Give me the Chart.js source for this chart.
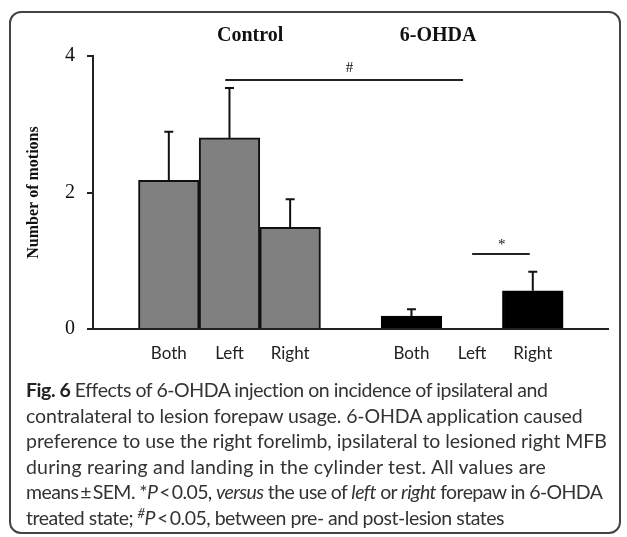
<!DOCTYPE html>
<html>
<head>
<meta charset="utf-8">
<script src="https://cdn.jsdelivr.net/npm/chart.js@4.4.0/dist/chart.umd.min.js"></script>
<style>
    html, body { margin: 0; padding: 0; background: #fff; }
    body { width: 627px; height: 537px; position: relative; overflow: hidden; }
    .frame {
        position: absolute; left: 9px; top: 11px; width: 608px; height: 519px;
        border: 2px solid #444; border-radius: 12px;
    }
    #chart { position: absolute; left: 0; top: 0; }
    .caption {
        position: absolute; left: 26px; top: 377px;
        font-family: Lato, "Open Sans", sans-serif; font-size: 19.5px; line-height: 25.6px;
        color: #333; white-space: nowrap;
    }
    .caption span { display: block; }
    .caption b { color: #222; }
</style>
</head>
<body>
<div class="frame"></div>
<canvas id="chart" width="627" height="380"></canvas>
<div class="caption">
    <span style="letter-spacing:-0.45px"><b>Fig. 6</b> Effects of 6-OHDA injection on incidence of ipsilateral and</span>
    <span style="letter-spacing:-0.1px">contralateral to lesion forepaw usage. 6-OHDA application caused</span>
    <span style="letter-spacing:-0.05px">preference to use the right forelimb, ipsilateral to lesioned right MFB</span>
    <span style="letter-spacing:0.2px">during rearing and landing in the cylinder test. All values are</span>
    <span style="letter-spacing:-0.6px">means&thinsp;±&thinsp;SEM. *<i>P</i>&thinsp;&lt;&thinsp;0.05, <i>versus</i> the use of <i>left</i> or <i>right</i> forepaw in 6-OHDA</span>
    <span style="letter-spacing:-0.5px">treated state; <sup style="font-size:13px;line-height:0"><i>#</i></sup><i>P</i>&thinsp;&lt;&thinsp;0.05, between pre- and post-lesion states</span>
</div>
<script>
    "use strict";

    // Data
    var labels = ["Both", "Left", "Right", "", "Both", "Left", "Right"];
    var controlValues = [2.18, 2.80, 1.49, null, null, null, null];
    var controlErrors = [0.71, 0.73, 0.41, null, null, null, null];
    var ohdaValues = [null, null, null, null, 0.19, 0, 0.56];
    var ohdaErrors = [null, null, null, null, 0.10, 0, 0.28];
    var yTicks = [0, 2, 4];
    var groupNames = ["Control", "6-OHDA"];
    var sigMarks = ["#", "*"];

    // Annotation placement (data units)
    var groupTitlePos = [{ x: 1.34, y: 4.29 }, { x: 4.44, y: 4.29 }];
    var sigLinePos = [
        { from: 0.93, to: 4.85, y: 3.65, textX: 2.98, textY: 3.82 },
        { from: 5.00, to: 5.95, y: 1.10, textX: 5.49, textY: 1.23 }
    ];

    var serif = '"Liberation Serif", "Times New Roman", serif';
    var sans = 'Lato, "Open Sans", sans-serif';

    // Error bars (upper half only)
    var errorBars = {
        id: "errorBars",
        afterDatasetsDraw: function (chart) {
            var ctx = chart.ctx;
            var yScale = chart.scales.y;
            chart.data.datasets.forEach(function (ds, di) {
                var meta = chart.getDatasetMeta(di);
                meta.data.forEach(function (bar, i) {
                    var v = ds.data[i].y;
                    var e = ds.errors[i];
                    if (v === null || !e) return;
                    var top = yScale.getPixelForValue(v + e);
                    ctx.save();
                    ctx.strokeStyle = "#111";
                    ctx.lineWidth = 2;
                    ctx.beginPath();
                    ctx.moveTo(bar.x, bar.y);
                    ctx.lineTo(bar.x, top);
                    ctx.moveTo(bar.x - 4.5, top);
                    ctx.lineTo(bar.x + 4.5, top);
                    ctx.stroke();
                    ctx.restore();
                });
            });
        }
    };

    // Group titles and significance lines
    var annotations = {
        id: "annotations",
        afterDraw: function (chart) {
            var ctx = chart.ctx;
            var xs = chart.scales.x, ys = chart.scales.y;
            ctx.save();
            ctx.fillStyle = "#111";
            ctx.textAlign = "center";
            ctx.textBaseline = "middle";
            ctx.font = "bold 20px " + serif;
            groupNames.forEach(function (name, i) {
                ctx.fillText(name, xs.getPixelForValue(groupTitlePos[i].x), ys.getPixelForValue(groupTitlePos[i].y));
            });
            ctx.strokeStyle = "#222";
            ctx.lineWidth = 2;
            ctx.font = "15px " + serif;
            sigLinePos.forEach(function (p, i) {
                var y = Math.round(ys.getPixelForValue(p.y));
                ctx.beginPath();
                ctx.moveTo(xs.getPixelForValue(p.from), y);
                ctx.lineTo(xs.getPixelForValue(p.to), y);
                ctx.stroke();
                ctx.fillText(sigMarks[i], xs.getPixelForValue(p.textX), ys.getPixelForValue(p.textY));
            });
            ctx.restore();
        }
    };

    var ctx = document.getElementById("chart").getContext("2d");
    var myChart = new Chart(ctx, {
        type: "bar",
        data: {
            datasets: [
                {
                    label: groupNames[0],
                    data: controlValues.map(function (v, i) { return { x: i, y: v }; }),
                    errors: controlErrors,
                    backgroundColor: "#808080",
                    borderColor: "#111",
                    borderWidth: 2,
                    barPercentage: 1,
                    categoryPercentage: 1
                },
                {
                    label: groupNames[1],
                    data: ohdaValues.map(function (v, i) { return { x: i, y: v }; }),
                    errors: ohdaErrors,
                    backgroundColor: "#000",
                    borderColor: "#000",
                    borderWidth: 2,
                    barPercentage: 1,
                    categoryPercentage: 1
                }
            ]
        },
        options: {
            responsive: false,
            animation: false,
            layout: { padding: { top: 56, right: 19, left: 0, bottom: 0 } },
            plugins: { legend: { display: false }, tooltip: { enabled: false } },
            scales: {
                x: {
                    type: "linear",
                    stacked: true,
                    offset: false,
                    min: -1.25,
                    max: 7.24,
                    grid: { display: false, drawTicks: false },
                    border: { display: true, color: "#222", width: 2 },
                    afterBuildTicks: function (scale) {
                        scale.ticks = labels.map(function (l, i) { return { value: i }; });
                    },
                    afterFit: function (scale) { scale.height = 51; },
                    ticks: {
                        autoSkip: false,
                        maxRotation: 0,
                        padding: 14,
                        color: "#222",
                        font: { family: sans, size: 17 },
                        callback: function (value) { return labels[value]; }
                    }
                },
                y: {
                    stacked: true,
                    min: 0,
                    max: 4,
                    afterBuildTicks: function (scale) {
                        scale.ticks = yTicks.map(function (v) { return { value: v }; });
                    },
                    afterFit: function (scale) { scale.width = 93; },
                    grid: { drawOnChartArea: false, drawTicks: true, tickLength: 6, color: "#222", lineWidth: 2 },
                    border: { display: true, color: "#222", width: 2 },
                    ticks: {
                        padding: 12,
                        color: "#111",
                        font: { family: serif, size: 20 }
                    },
                    title: {
                        display: true,
                        text: "Number of motions",
                        color: "#111",
                        padding: { top: 24, bottom: 0 },
                        font: { family: serif, size: 16, weight: "bold" }
                    }
                }
            }
        },
        plugins: [errorBars, annotations]
    });
</script>
</body>
</html>
